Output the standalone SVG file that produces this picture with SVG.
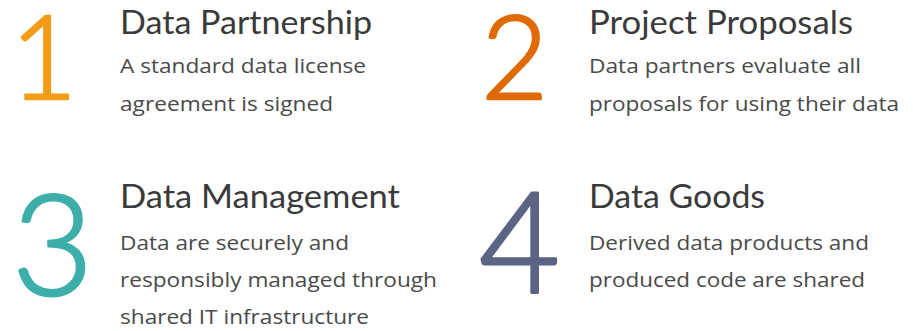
<svg xmlns="http://www.w3.org/2000/svg" width="913" height="331" viewBox="0 0 913 331">
<style>
.num{font-family:"Lato","Open Sans",sans-serif;font-weight:300;font-size:116px;stroke-width:2.4px;stroke-linejoin:round}
.big{font-size:140px;stroke-width:2.8px}
.h{font-family:"Lato","Open Sans",sans-serif;font-size:32px;fill:#3a3a3a}
.b{font-family:"Open Sans","Liberation Sans",sans-serif;font-size:20px;fill:#4a4a4a}
</style>
<rect width="913" height="331" fill="#ffffff"/>
<g id="step1">
<text class="num" x="10" y="99" fill="#f39c18" stroke="#f39c18">1</text>
<text class="h" x="120" y="34" textLength="252" lengthAdjust="spacingAndGlyphs">Data Partnership</text>
<text class="b" x="120" y="73" textLength="246" lengthAdjust="spacingAndGlyphs">A standard data license</text>
<text class="b" x="120" y="111" textLength="213" lengthAdjust="spacingAndGlyphs">agreement is signed</text>
</g>
<g id="step2">
<text class="num" x="481" y="99" fill="#e06a05" stroke="#e06a05">2</text>
<text class="h" x="589" y="34" textLength="264" lengthAdjust="spacingAndGlyphs">Project Proposals</text>
<text class="b" x="589" y="73" textLength="272" lengthAdjust="spacingAndGlyphs">Data partners evaluate all</text>
<text class="b" x="589" y="111" textLength="310" lengthAdjust="spacingAndGlyphs">proposals for using their data</text>
</g>
<g id="step3">
<text class="num big" x="12" y="295" fill="#3eaeaa" stroke="#3eaeaa">3</text>
<text class="h" x="120" y="208" textLength="280" lengthAdjust="spacingAndGlyphs">Data Management</text>
<text class="b" x="120" y="250" textLength="229" lengthAdjust="spacingAndGlyphs">Data are securely and</text>
<text class="b" x="120" y="287" textLength="317" lengthAdjust="spacingAndGlyphs">responsibly managed through</text>
<text class="b" x="120" y="324" textLength="249" lengthAdjust="spacingAndGlyphs">shared IT infrastructure</text>
</g>
<g id="step4">
<text class="num big" x="479" y="293" fill="#5b6583" stroke="#5b6583">4</text>
<text class="h" x="589" y="208" textLength="176" lengthAdjust="spacingAndGlyphs">Data Goods</text>
<text class="b" x="589" y="250" textLength="280" lengthAdjust="spacingAndGlyphs">Derived data products and</text>
<text class="b" x="589" y="287" textLength="276" lengthAdjust="spacingAndGlyphs">produced code are shared</text>
</g>
<g id="connectors"/>
</svg>
